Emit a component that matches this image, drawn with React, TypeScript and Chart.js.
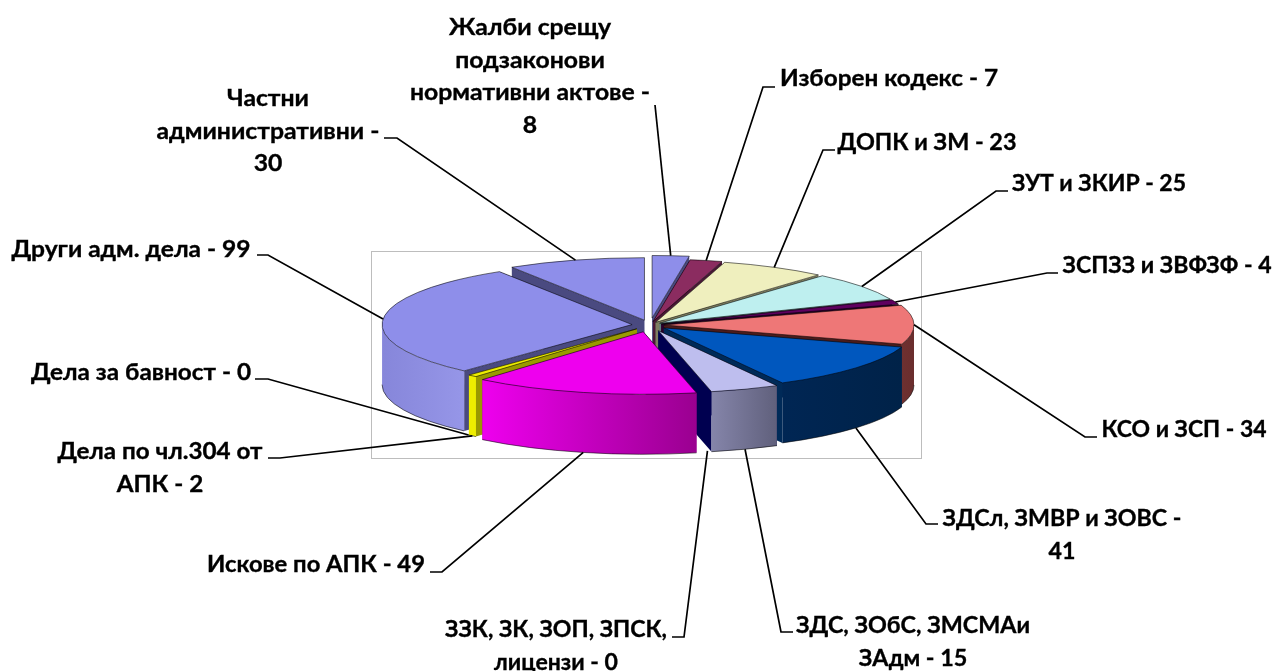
import React, { useEffect, useRef } from "react";
import { Chart, registerables } from "chart.js";

Chart.register(...registerables);

const categories = [
  "Жалби срещу подзаконови нормативни актове",
  "Изборен кодекс",
  "ДОПК и ЗМ",
  "ЗУТ и ЗКИР",
  "ЗСПЗЗ и ЗВФЗФ",
  "КСО и ЗСП",
  "ЗДСл, ЗМВР и ЗОВС",
  "ЗДС, ЗОбС, ЗМСМАи ЗАдм",
  "ЗЗК, ЗК, ЗОП, ЗПСК, лицензи",
  "Искове по АПК",
  "Дела по чл.304 от АПК",
  "Дела за бавност",
  "Други адм. дела",
  "Частни административни",
];
const values = [8, 7, 23, 25, 4, 34, 41, 15, 0, 49, 2, 0, 99, 30];

const topColors = ["#8E8EEA", "#8B2C60", "#EFEFBE", "#BEEFEF", "#5F005F", "#EE7777", "#0057BE", "#BEBEEE", "#BEBEEE", "#EE00EE", "#EEEE00", "#EEEE00", "#8E8EEA", "#8E8EEA"];
const wallColors = [
  ["#7878c8", "#7878c8"], ["#5a1c3e", "#5a1c3e"], ["#9a9a7a", "#9a9a7a"], ["#7a9a9a", "#7a9a9a"], ["#3a003a", "#3a003a"],
  ["#6e3030", "#6a2e2e"], ["#002654", "#002248"], ["#8585aa", "#60607c"], ["#60607c", "#60607c"], ["#EE00EE", "#9A0090"],
  ["#EEEE00", "#EEEE00"], ["#EEEE00", "#EEEE00"], ["#8686DA", "#9696E8"], ["#8E8EEA", "#8E8EEA"],
];
const cutColors = ["#4a4a80", "#4a1636", "#7e7e60", "#5e7e7e", "#2a002a", "#4a1c1c", "#002a58", "#000050", "#000050", "#9A0090", "#9a9a00", "#9a9a00", "#4a4a80", "#4a4a80"];
const explode = [28, 14, 12, 12, 12, 14, 18, 24, 20, 28, 20, 20, 18, 20];

const labelLines = [
  ["Жалби срещу", "подзаконови", "нормативни актове -", "8"],
  ["Изборен кодекс - 7"],
  ["ДОПК и ЗМ - 23"],
  ["ЗУТ и ЗКИР - 25"],
  ["ЗСПЗЗ и ЗВФЗФ - 4"],
  ["КСО и ЗСП - 34"],
  ["ЗДСл, ЗМВР и ЗОВС -", "41"],
  ["ЗДС, ЗОбС, ЗМСМАи", "ЗАдм - 15"],
  ["ЗЗК, ЗК, ЗОП, ЗПСК,", "лицензи - 0"],
  ["Искове по АПК - 49"],
  ["Дела по чл.304 от", "АПК - 2"],
  ["Дела за бавност - 0"],
  ["Други адм. дела - 99"],
  ["Частни", "административни -", "30"],
];
// label centre x, first line centre y, widest line width, line start x/y, elbow x, anchor on base of wall
const labelBoxes = [
  [530, 28, 240, 655, 105, 655, 0],
  [889, 79, 218, 775, 87, 763, 0],
  [927, 143, 179, 835, 150, 823, 0],
  [1099, 184, 174, 1008, 191, 996, 0],
  [1167, 266, 209, 1058, 273, 1047, 0],
  [1184, 430, 165, 1097, 437, 1085, 0],
  [1062, 519, 239, 938, 524, 926, 1],
  [913, 626, 234, 793, 632, 781, 1],
  [556, 630, 222, 672, 637, 684, 1],
  [316, 565, 218, 430, 572, 442, 1],
  [160, 452, 205, 268, 458, 280, 1],
  [141, 373, 220, 255, 379, 268, 1],
  [131, 250, 239, 257, 255, 268, 0],
  [268, 99, 223, 384, 138, 397, 0],
];

const CX = 650, CY = 325, RADIUS = 250, SQUASH = 0.25, DEPTH = 60;
const LINE_HEIGHT = 32.5;
const FONT = 'bold 23px Lato, "Open Sans", sans-serif';

function pie3dDraw(chart: any) {
  const ctx = chart.ctx as CanvasRenderingContext2D;
  const arcs = chart.getDatasetMeta(0).data as any[];

  // plot-area frame
  ctx.save();
  ctx.strokeStyle = "#BDBDBD";
  ctx.lineWidth = 1;
  ctx.strokeRect(371.5, 251.5, 550, 207);
  ctx.restore();

  const geo = arcs.map((arc, i) => {
    const mid = (arc.startAngle + arc.endAngle) / 2;
    return {
      i, arc, mid,
      x: CX + Math.cos(mid) * explode[i],
      y: CY + Math.sin(mid) * explode[i] * SQUASH,
    };
  });
  const order = [...geo].sort((a, b) => Math.sin(a.mid) - Math.sin(b.mid));

  const ry = RADIUS * SQUASH;
  const rim = (g: any, ang: number, dy = 0) => [g.x + Math.cos(ang) * RADIUS, g.y + Math.sin(ang) * ry + dy];

  for (const g of order) {
    const { arc, i } = g;
    if (arc.endAngle - arc.startAngle <= 0) continue;
    const s = arc.startAngle, e = arc.endAngle;

    // cut faces
    ctx.fillStyle = cutColors[i];
    for (const ang of [s, e]) {
      const [px, py] = rim(g, ang);
      ctx.beginPath();
      ctx.moveTo(g.x, g.y);
      ctx.lineTo(px, py);
      ctx.lineTo(px, py + DEPTH);
      ctx.lineTo(g.x, g.y + DEPTH);
      ctx.closePath();
      ctx.fill();
    }

    // outer wall, front half only
    const a = Math.max(s, 0), b = Math.min(e, Math.PI);
    if (b > a) {
      const [x0] = rim(g, b);
      const [x1] = rim(g, a);
      const grad = ctx.createLinearGradient(Math.min(x0, x1), 0, Math.max(x0, x1) + 0.01, 0);
      grad.addColorStop(0, wallColors[i][0]);
      grad.addColorStop(1, wallColors[i][1]);
      ctx.fillStyle = grad;
      ctx.beginPath();
      ctx.ellipse(g.x, g.y, RADIUS, ry, 0, a, b);
      ctx.ellipse(g.x, g.y + DEPTH, RADIUS, ry, 0, b, a, true);
      ctx.closePath();
      ctx.fill();
      ctx.strokeStyle = "rgba(0,0,0,0.55)";
      ctx.lineWidth = 1;
      ctx.beginPath();
      ctx.ellipse(g.x, g.y + DEPTH, RADIUS, ry, 0, a, b);
      ctx.stroke();
    }

    // top face: the library's own arc element, squashed and moved
    ctx.save();
    ctx.translate(g.x, g.y);
    ctx.scale(1, SQUASH);
    ctx.translate(-arc.x, -arc.y);
    arc.draw(ctx);
    ctx.restore();

    ctx.strokeStyle = "rgba(0,0,0,0.55)";
    ctx.lineWidth = 1;
    ctx.beginPath();
    ctx.moveTo(g.x, g.y);
    ctx.ellipse(g.x, g.y, RADIUS, ry, 0, s, e);
    ctx.closePath();
    ctx.stroke();
  }

  // leader lines
  ctx.save();
  ctx.strokeStyle = "#000";
  ctx.lineWidth = 1.7;
  geo.forEach((g) => {
    const [, , , sx, sy, ex, onBase] = labelBoxes[g.i];
    const [ax, ay] = rim(g, g.mid, onBase ? DEPTH : 0);
    ctx.beginPath();
    ctx.moveTo(sx, sy);
    ctx.lineTo(ex, sy);
    ctx.lineTo(ax, ay);
    ctx.stroke();
  });
  ctx.restore();

  // labels
  ctx.save();
  ctx.fillStyle = "#000";
  ctx.strokeStyle = "#000";
  ctx.lineWidth = 0.35;
  ctx.font = FONT;
  ctx.textAlign = "center";
  ctx.textBaseline = "middle";
  labelLines.forEach((lines, i) => {
    const [x, y, w] = labelBoxes[i];
    const widest = Math.max(...lines.map((t) => ctx.measureText(t).width));
    const stretch = w / widest;
    lines.forEach((t, j) => {
      ctx.save();
      ctx.translate(x, y + j * LINE_HEIGHT);
      ctx.scale(stretch, 1);
      ctx.fillText(t, 0, 0);
      ctx.strokeText(t, 0, 0);
      ctx.restore();
    });
  });
  ctx.restore();
}

const pie3d = {
  id: "pie3d",
  beforeDatasetDraw(chart: any) {
    pie3dDraw(chart);
    return false;
  },
};

export default function App() {
  const ref = useRef<HTMLCanvasElement | null>(null);
  useEffect(() => {
    const chart = new Chart(ref.current as HTMLCanvasElement, {
      type: "pie",
      data: {
        labels: categories,
        datasets: [{ data: values, backgroundColor: topColors, borderWidth: 0 }],
      },
      options: {
        animation: false,
        responsive: false,
        radius: RADIUS,
        plugins: { legend: { display: false }, tooltip: { enabled: false } },
      } as any,
      plugins: [pie3d],
    });
    return () => chart.destroy();
  }, []);
  return (
    <canvas
      ref={ref}
      width={1276}
      height={671}
      style={{ position: "absolute", left: 0, top: 0, width: 1276, height: 671, background: "#fff" }}
    />
  );
}
